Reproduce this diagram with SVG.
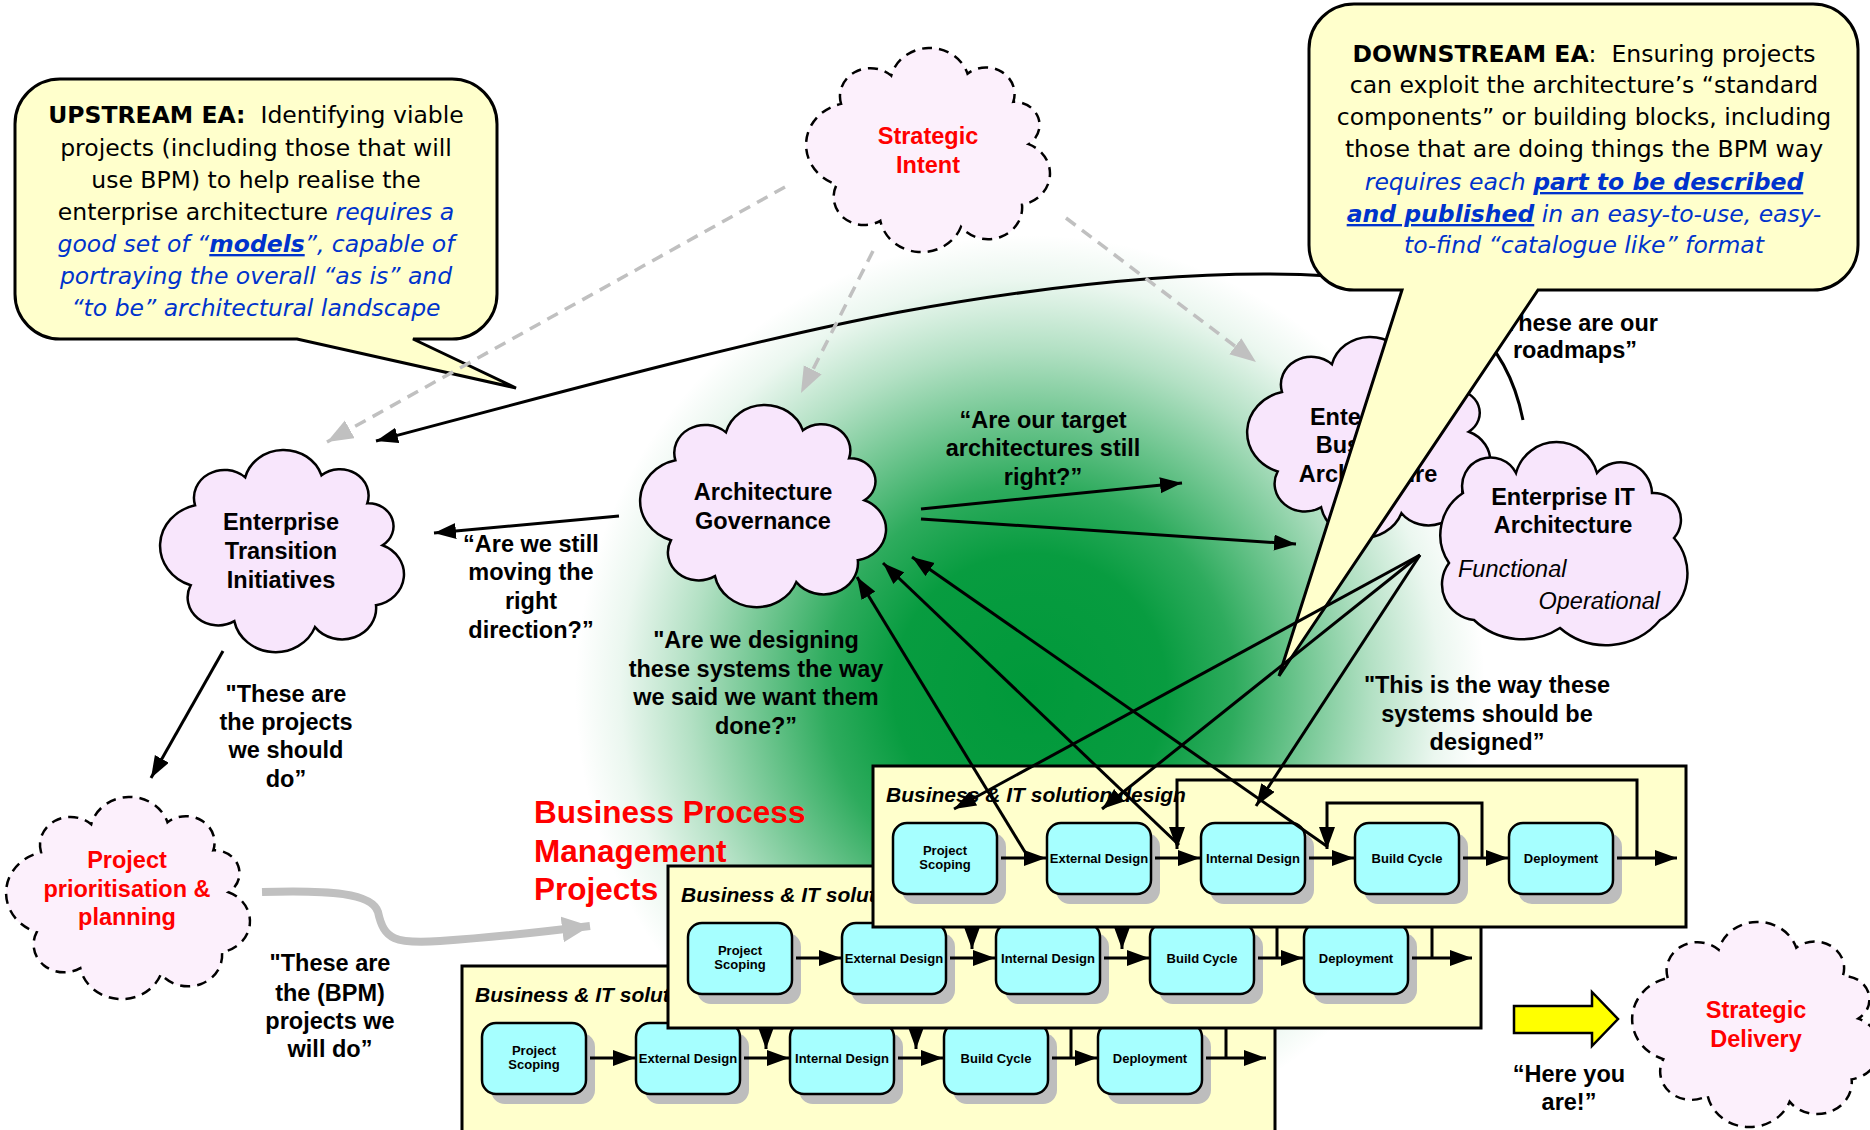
<svg xmlns="http://www.w3.org/2000/svg" width="1870" height="1130" viewBox="0 0 1870 1130">
<defs>
<radialGradient id="glow" gradientUnits="userSpaceOnUse" cx="1030" cy="690" r="455">
<stop offset="0" stop-color="#00993A" stop-opacity="1"/>
<stop offset="0.3" stop-color="#00993A" stop-opacity="0.97"/>
<stop offset="0.45" stop-color="#00993A" stop-opacity="0.82"/>
<stop offset="0.6" stop-color="#00993A" stop-opacity="0.56"/>
<stop offset="0.75" stop-color="#00993A" stop-opacity="0.3"/>
<stop offset="0.9" stop-color="#00993A" stop-opacity="0.08"/>
<stop offset="1" stop-color="#00993A" stop-opacity="0"/>
</radialGradient>
<marker id="ah" markerUnits="userSpaceOnUse" markerWidth="24" markerHeight="18" refX="22" refY="8" orient="auto"><path d="M0,0 L22,8 L0,16 Z" fill="#000"/></marker>
<marker id="ahs" markerUnits="userSpaceOnUse" markerWidth="24" markerHeight="18" refX="22" refY="8" orient="auto"><path d="M0,0 L22,8 L0,16 Z" fill="#000"/></marker>
<marker id="ahg" markerUnits="userSpaceOnUse" markerWidth="28" markerHeight="22" refX="26" refY="10" orient="auto"><path d="M0,0 L26,10 L0,20 Z" fill="#C0C0C0"/></marker>
<marker id="ahgb" markerUnits="userSpaceOnUse" markerWidth="30" markerHeight="30" refX="28" refY="13" orient="auto"><path d="M0,0 L28,13 L0,26 Z" fill="#C0C0C0"/></marker>
<style>
.cl{fill:#F8E6FC;stroke:#000;stroke-width:2.5;vector-effect:non-scaling-stroke}
.cld{fill:#FCF0FC;stroke:#000;stroke-width:2.5;stroke-dasharray:10 7;vector-effect:non-scaling-stroke}
.t{font-family:"Liberation Sans",Arial,sans-serif;font-weight:bold;font-size:23.5px;text-anchor:middle;fill:#000}
.red{fill:#FF0000}
.it{font-family:"Liberation Sans",Arial,sans-serif;font-style:italic;font-size:23.5px;fill:#000}
.ln{stroke:#000;stroke-width:3;fill:none}
.gd{stroke:#C0C0C0;stroke-width:3.5;stroke-dasharray:12 8;fill:none}
.callout{fill:#FFFFCC;stroke:#000;stroke-width:3}
.ct{font-family:"DejaVu Sans","Noto Sans",sans-serif;font-size:23.5px;text-anchor:middle;fill:#000}
.b{font-weight:bold}
.blue{fill:#0033CC;font-style:italic}
.u{font-weight:bold;text-decoration:underline}
.panel{fill:#FFFFCC;stroke:#000;stroke-width:3}
.box{fill:#A6FFFF;stroke:#000;stroke-width:2.5}
.sh{fill:#BDBDBD}
.bt{font-family:"Liberation Sans",Arial,sans-serif;font-weight:bold;font-size:13px;text-anchor:middle;fill:#000}
.pt{font-family:"Liberation Sans",Arial,sans-serif;font-weight:bold;font-style:italic;font-size:21px;fill:#000}
.fl{stroke:#000;stroke-width:3;fill:none;marker-end:url(#ahs)}
.bpm{font-family:"Liberation Sans",Arial,sans-serif;font-weight:bold;font-size:31.5px;fill:#FF0000}
</style>
</defs>

<rect x="0" y="0" width="1870" height="1130" fill="#FFFFFF"/>
<rect x="0" y="0" width="1870" height="1130" fill="url(#glow)"/>

<g id="strategic-intent">
<path class="cld" transform="translate(825.8,43.4) scale(1.090,1.008)" d="M14,60 A28,28 0 0 1 60,32 A36.4,36.4 0 0 1 130,30 A26.3,26.3 0 0 1 172,58 A23,23 0 0 1 186,100 A31.4,31.4 0 0 1 180,160 A31.3,31.3 0 0 1 124,182 A38.6,38.6 0 0 1 50,176 A28,28 0 0 1 10,140 A41.7,41.7 0 0 1 14,60 Z"/>
<text class="t red" x="928" y="144">Strategic</text>
<text class="t red" x="928" y="173">Intent</text>
</g>

<g id="enterprise-transition">
<path class="cl" transform="translate(179.8,445.4) scale(1.090,0.9985)" d="M14,60 A28,28 0 0 1 60,32 A36.4,36.4 0 0 1 130,30 A26.3,26.3 0 0 1 172,58 A23,23 0 0 1 186,100 A31.4,31.4 0 0 1 180,160 A31.3,31.3 0 0 1 124,182 A38.6,38.6 0 0 1 50,176 A28,28 0 0 1 10,140 A41.7,41.7 0 0 1 14,60 Z"/>
<text class="t" x="281" y="530">Enterprise</text>
<text class="t" x="281" y="559">Transition</text>
<text class="t" x="281" y="588">Initiatives</text>
</g>

<g id="architecture-governance">
<path class="cl" transform="translate(660,400.4) scale(1.099,0.9985)" d="M14,60 A28,28 0 0 1 60,32 A36.4,36.4 0 0 1 130,30 A26.3,26.3 0 0 1 172,58 A23,23 0 0 1 186,100 A31.4,31.4 0 0 1 180,160 A31.3,31.3 0 0 1 124,182 A38.6,38.6 0 0 1 50,176 A28,28 0 0 1 10,140 A41.7,41.7 0 0 1 14,60 Z"/>
<text class="t" x="763" y="500">Architecture</text>
<text class="t" x="763" y="529">Governance</text>
</g>

<g id="enterprise-business-architecture">
<path class="cl" transform="translate(1266.8,332.4) scale(1.086,0.9936)" d="M14,60 A28,28 0 0 1 60,32 A36.4,36.4 0 0 1 130,30 A26.3,26.3 0 0 1 172,58 A23,23 0 0 1 186,100 A31.4,31.4 0 0 1 180,160 A31.3,31.3 0 0 1 124,182 A38.6,38.6 0 0 1 50,176 A28,28 0 0 1 10,140 A41.7,41.7 0 0 1 14,60 Z"/>
<text class="t" x="1368" y="425">Enterprise</text>
<text class="t" x="1368" y="453">Business</text>
<text class="t" x="1368" y="482">Architecture</text>
</g>

<g id="enterprise-it-architecture">
<path class="cl" d="M1516,473 A42,42 0 0 1 1597,473 A31.4,31.4 0 0 1 1652,493 A27,27 0 0 1 1674,538 A53.3,53.3 0 0 1 1660,620 A70.4,70.4 0 0 1 1560,628 A69.7,69.7 0 0 1 1474,620 A35.9,35.9 0 0 1 1449,563 A50,50 0 0 1 1463,493 A28.5,28.5 0 0 1 1516,473 Z"/>
<text class="t" x="1563" y="505">Enterprise IT</text>
<text class="t" x="1563" y="533">Architecture</text>
<text class="it" x="1458" y="577">Functional</text>
<text class="it" x="1660" y="609" text-anchor="end">Operational</text>
</g>

<g id="connectors-back">
<path class="ln" marker-end="url(#ah)" d="M1523,420 C1508,345 1460,285 1330,276 C1200,268 1050,285 900,312 C750,340 550,395 376,441"/>
</g>
<text class="t" x="1575" y="331">“These are our</text>
<text class="t" x="1575" y="358">roadmaps”</text>

<g id="downstream-callout">
<path class="callout" d="M1354,4 H1813 A45,45 0 0 1 1858,49 V245 A45,45 0 0 1 1813,290 H1538 L1279,676 L1402,290 H1354 A45,45 0 0 1 1309,245 V49 A45,45 0 0 1 1354,4 Z"/>
<text class="ct" x="1584" y="62"><tspan class="b">DOWNSTREAM EA</tspan>:&#160; Ensuring projects</text>
<text class="ct" x="1584" y="93">can exploit the architecture’s “standard</text>
<text class="ct" x="1584" y="125">components” or building blocks, including</text>
<text class="ct" x="1584" y="157">those that are doing things the BPM way</text>
<text class="ct blue" x="1584" y="190">requires each <tspan class="u">part to be described</tspan></text>
<text class="ct blue" x="1584" y="222"><tspan class="u">and published</tspan> in an easy-to-use, easy-</text>
<text class="ct blue" x="1584" y="253">to-find “catalogue like” format</text>
</g>

<g id="upstream-callout">
<path class="callout" d="M60,79 H452 A45,45 0 0 1 497,124 V294 A45,45 0 0 1 452,339 H413 L516,388 L297,339 H60 A45,45 0 0 1 15,294 V124 A45,45 0 0 1 60,79 Z"/>
<text class="ct" x="256" y="123"><tspan class="b">UPSTREAM EA:</tspan>&#160; Identifying viable</text>
<text class="ct" x="256" y="156">projects (including those that will</text>
<text class="ct" x="256" y="188">use BPM) to help realise the</text>
<text class="ct" x="256" y="220">enterprise architecture <tspan class="blue">requires a</tspan></text>
<text class="ct blue" x="256" y="252">good set of “<tspan class="u">models</tspan>”, capable of</text>
<text class="ct blue" x="256" y="284">portraying the overall “as is” and</text>
<text class="ct blue" x="256" y="316">“to be” architectural landscape</text>
</g>

<g id="connectors">
<path class="gd" marker-end="url(#ahg)" d="M785,187 L327,442"/>
<path class="gd" marker-end="url(#ahg)" d="M873,251 L801,393"/>
<path class="gd" marker-end="url(#ahg)" d="M1066,218 L1256,362"/>
<path class="ln" marker-end="url(#ah)" d="M921,509 L1182,483"/>
<path class="ln" marker-end="url(#ah)" d="M921,519 L1296,544"/>
<path class="ln" marker-end="url(#ah)" d="M619,516 L434,533"/>
<path class="ln" marker-end="url(#ah)" d="M223,651 L151,778"/>
</g>

<g id="panel3" transform="translate(-411,200)">
<rect class="panel" x="873" y="766" width="813" height="200"/>
<text class="pt" x="886" y="802">Business &amp; IT solution design</text>
<rect class="sh" x="902" y="833" width="104" height="71" rx="14"/>
<rect class="sh" x="1056" y="833" width="104" height="71" rx="14"/>
<rect class="sh" x="1210" y="833" width="104" height="71" rx="14"/>
<rect class="sh" x="1364" y="833" width="104" height="71" rx="14"/>
<rect class="sh" x="1518" y="833" width="104" height="71" rx="14"/>
<g id="p3-scoping"><rect class="box" x="893" y="823" width="104" height="71" rx="14"/><text class="bt" x="945" y="855">Project</text><text class="bt" x="945" y="869">Scoping</text></g>
<g id="p3-external"><rect class="box" x="1047" y="823" width="104" height="71" rx="14"/><text class="bt" x="1099" y="863">External Design</text></g>
<g id="p3-internal"><rect class="box" x="1201" y="823" width="104" height="71" rx="14"/><text class="bt" x="1253" y="863">Internal Design</text></g>
<g id="p3-build"><rect class="box" x="1355" y="823" width="104" height="71" rx="14"/><text class="bt" x="1407" y="863">Build Cycle</text></g>
<g id="p3-deploy"><rect class="box" x="1509" y="823" width="104" height="71" rx="14"/><text class="bt" x="1561" y="863">Deployment</text></g>
<path class="fl" d="M1001,858 H1046"/>
<path class="fl" d="M1155,858 H1200"/>
<path class="fl" d="M1309,858 H1354"/>
<path class="fl" d="M1463,858 H1508"/>
<path class="fl" d="M1617,858 H1677"/>
<path class="fl" d="M1637,858 V780 H1177 V849"/>
<path class="fl" d="M1482,858 V803 H1327 V849"/>
</g>

<g id="panel2" transform="translate(-205,100)">
<rect class="panel" x="873" y="766" width="813" height="162"/>
<text class="pt" x="886" y="802">Business &amp; IT solution design</text>
<rect class="sh" x="902" y="833" width="104" height="71" rx="14"/>
<rect class="sh" x="1056" y="833" width="104" height="71" rx="14"/>
<rect class="sh" x="1210" y="833" width="104" height="71" rx="14"/>
<rect class="sh" x="1364" y="833" width="104" height="71" rx="14"/>
<rect class="sh" x="1518" y="833" width="104" height="71" rx="14"/>
<g id="p2-scoping"><rect class="box" x="893" y="823" width="104" height="71" rx="14"/><text class="bt" x="945" y="855">Project</text><text class="bt" x="945" y="869">Scoping</text></g>
<g id="p2-external"><rect class="box" x="1047" y="823" width="104" height="71" rx="14"/><text class="bt" x="1099" y="863">External Design</text></g>
<g id="p2-internal"><rect class="box" x="1201" y="823" width="104" height="71" rx="14"/><text class="bt" x="1253" y="863">Internal Design</text></g>
<g id="p2-build"><rect class="box" x="1355" y="823" width="104" height="71" rx="14"/><text class="bt" x="1407" y="863">Build Cycle</text></g>
<g id="p2-deploy"><rect class="box" x="1509" y="823" width="104" height="71" rx="14"/><text class="bt" x="1561" y="863">Deployment</text></g>
<path class="fl" d="M1001,858 H1046"/>
<path class="fl" d="M1155,858 H1200"/>
<path class="fl" d="M1309,858 H1354"/>
<path class="fl" d="M1463,858 H1508"/>
<path class="fl" d="M1617,858 H1677"/>
<path class="fl" d="M1637,858 V780 H1177 V849"/>
<path class="fl" d="M1482,858 V803 H1327 V849"/>
</g>

<g id="panel1">
<rect class="panel" x="873" y="766" width="813" height="161"/>
<text class="pt" x="886" y="802">Business &amp; IT solution design</text>
<rect class="sh" x="902" y="833" width="104" height="71" rx="14"/>
<rect class="sh" x="1056" y="833" width="104" height="71" rx="14"/>
<rect class="sh" x="1210" y="833" width="104" height="71" rx="14"/>
<rect class="sh" x="1364" y="833" width="104" height="71" rx="14"/>
<rect class="sh" x="1518" y="833" width="104" height="71" rx="14"/>
<g id="p1-scoping"><rect class="box" x="893" y="823" width="104" height="71" rx="14"/><text class="bt" x="945" y="855">Project</text><text class="bt" x="945" y="869">Scoping</text></g>
<g id="p1-external"><rect class="box" x="1047" y="823" width="104" height="71" rx="14"/><text class="bt" x="1099" y="863">External Design</text></g>
<g id="p1-internal"><rect class="box" x="1201" y="823" width="104" height="71" rx="14"/><text class="bt" x="1253" y="863">Internal Design</text></g>
<g id="p1-build"><rect class="box" x="1355" y="823" width="104" height="71" rx="14"/><text class="bt" x="1407" y="863">Build Cycle</text></g>
<g id="p1-deploy"><rect class="box" x="1509" y="823" width="104" height="71" rx="14"/><text class="bt" x="1561" y="863">Deployment</text></g>
<path class="fl" d="M1001,858 H1046"/>
<path class="fl" d="M1155,858 H1200"/>
<path class="fl" d="M1309,858 H1354"/>
<path class="fl" d="M1463,858 H1508"/>
<path class="fl" d="M1617,858 H1677"/>
<path class="fl" d="M1637,858 V780 H1177 V849"/>
<path class="fl" d="M1482,858 V803 H1327 V849"/>
</g>

<g id="connectors-front">
<path class="ln" marker-end="url(#ah)" d="M1025,852 L857,577"/>
<path class="ln" marker-end="url(#ah)" d="M1179,845 L883,563"/>
<path class="ln" marker-end="url(#ah)" d="M1328,847 L912,557"/>
<path class="ln" marker-end="url(#ah)" d="M1420,555 L954,809"/>
<path class="ln" marker-end="url(#ah)" d="M1420,555 L1102,809"/>
<path class="ln" marker-end="url(#ah)" d="M1420,555 L1256,806"/>
<path fill="none" stroke="#C0C0C0" stroke-width="8" marker-end="url(#ahgb)" d="M262,892 C330,890 372,893 378,912 C384,940 395,944 440,941 C500,937 550,931 590,926"/>
</g>

<g id="labels">
<text class="t" x="1043" y="428">“Are our target</text>
<text class="t" x="1043" y="456">architectures still</text>
<text class="t" x="1043" y="485">right?”</text>
<text class="t" x="531" y="552">“Are we still</text>
<text class="t" x="531" y="580">moving the</text>
<text class="t" x="531" y="609">right</text>
<text class="t" x="531" y="638">direction?”</text>
<text class="t" x="286" y="702">"These are</text>
<text class="t" x="286" y="730">the projects</text>
<text class="t" x="286" y="758">we should</text>
<text class="t" x="286" y="787">do”</text>
<text class="t" x="756" y="648">"Are we designing</text>
<text class="t" x="756" y="677">these systems the way</text>
<text class="t" x="756" y="705">we said we want them</text>
<text class="t" x="756" y="734">done?”</text>
<text class="t" x="1487" y="693">"This is the way these</text>
<text class="t" x="1487" y="722">systems should be</text>
<text class="t" x="1487" y="750">designed”</text>
<text class="t" x="330" y="971">"These are</text>
<text class="t" x="330" y="1001">the (BPM)</text>
<text class="t" x="330" y="1029">projects we</text>
<text class="t" x="330" y="1057">will do”</text>
<text class="t" x="1569" y="1082">“Here you</text>
<text class="t" x="1569" y="1110">are!”</text>
</g>

<g id="bpm-title">
<text class="bpm" x="534" y="823">Business Process</text>
<text class="bpm" x="534" y="862">Management</text>
<text class="bpm" x="534" y="900">Projects</text>
</g>

<g id="project-prioritisation">
<path class="cld" transform="translate(25.8,792.4) scale(1.090,0.9985)" d="M14,60 A28,28 0 0 1 60,32 A36.4,36.4 0 0 1 130,30 A26.3,26.3 0 0 1 172,58 A23,23 0 0 1 186,100 A31.4,31.4 0 0 1 180,160 A31.3,31.3 0 0 1 124,182 A38.6,38.6 0 0 1 50,176 A28,28 0 0 1 10,140 A41.7,41.7 0 0 1 14,60 Z"/>
<text class="t red" x="127" y="868">Project</text>
<text class="t red" x="127" y="897">prioritisation &amp;</text>
<text class="t red" x="127" y="925">planning</text>
</g>

<g id="delivery-arrow">
<path d="M1514,1006 H1592 V992 L1618,1019 L1592,1046 V1033 H1514 Z" fill="#FFFF00" stroke="#000" stroke-width="2.5"/>
</g>

<g id="strategic-delivery">
<path class="cld" transform="translate(1652.2,917.3) scale(1.108,1.013)" d="M14,60 A28,28 0 0 1 60,32 A36.4,36.4 0 0 1 130,30 A26.3,26.3 0 0 1 172,58 A23,23 0 0 1 186,100 A31.4,31.4 0 0 1 180,160 A31.3,31.3 0 0 1 124,182 A38.6,38.6 0 0 1 50,176 A28,28 0 0 1 10,140 A41.7,41.7 0 0 1 14,60 Z"/>
<text class="t red" x="1756" y="1018">Strategic</text>
<text class="t red" x="1756" y="1047">Delivery</text>
</g>
</svg>
